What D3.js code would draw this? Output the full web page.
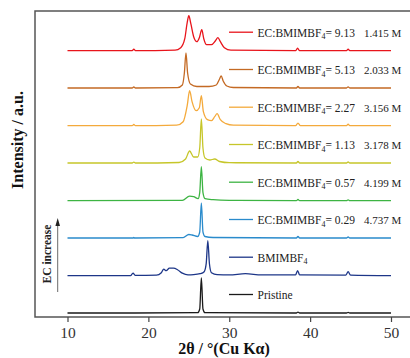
<!DOCTYPE html>
<html lang="en">
	<head>
		<meta charset="utf-8">
		<title>XRD patterns</title>
		<script type="text/javascript" src="https://cdn.jsdelivr.net/npm/d3@7/dist/d3.min.js"></script>
		<style type="text/css">
			body { margin: 0; background: #fff; }
			svg text { font-family: "Liberation Serif", "Times New Roman", serif; }
		</style>
	</head>
	<body>
		<script type="text/javascript">

			//Width and height
			var w = 410;
			var h = 358;

			//Tick labels for 2theta
			var xTicks = [10, 20, 30, 40, 50];

			//Series names (bottom to top), ratios, concentrations
			var names = ["Pristine", "BMIMBF4", "0.29", "0.57", "1.13", "2.27", "5.13", "9.13"];
			var molar = ["", "", "4.737 M", "4.199 M", "3.178 M", "3.156 M", "2.033 M", "1.415 M"];
			var colors = ["#1a1a1a", "#1d3688", "#2a8bcc", "#3db443", "#c6c62a", "#f4aa3c", "#c46a24", "#e8141b"];

			//Vertical offset of each pattern (a.u.)
			var offsets = [4, 41.3, 79, 116.3, 154, 191.3, 229, 266.3];

			//Patterns as [2theta, intensity]
			var pristine = [[10,0],[18.2,0],[26.1,0.3],[26.35,4],[26.55,35],[26.75,4],[27.0,0.3],[38.3,0],[38.5,0.8],[38.7,0],[44.5,0],[44.7,0.6],[44.9,0],[50,0]];
			var bmimbf4 = [[10,0],[17.8,0],[18.1,2.5],[18.4,0.3],[21.0,0.5],[21.6,3],[21.9,6.5],[22.2,5],[22.6,7.5],[23.1,7.5],[23.6,6],[24.2,2.5],[24.9,0.8],[25.6,1],[26.4,2],[26.9,4],[27.15,12],[27.35,35],[27.55,12],[27.8,3],[28.5,1],[30,0.8],[32,2],[34,0.8],[38.2,0.8],[38.45,5],[38.7,0.8],[44.4,0.5],[44.7,4],[45.0,0.5],[50,0]];
			var ec029 = [[10,0],[18.1,0],[18.2,0.6],[18.3,0],[24.3,0.3],[25.0,3.5],[25.4,3],[26.1,1.5],[26.35,6],[26.55,35],[26.75,6],[27.0,1.5],[28,0.5],[38.3,0],[38.5,1.5],[38.7,0],[44.5,0],[44.7,1],[44.9,0],[50,0]];
			var ec057 = [[10,0],[24.2,0.3],[25.1,4.5],[25.6,4],[26.15,2],[26.35,8],[26.55,34],[26.75,8],[27.0,2],[28.0,1],[30,0.3],[38.3,0],[38.5,1.2],[38.7,0],[44.5,0],[44.7,0.8],[44.9,0],[50,0]];
			var ec113 = [[10,0],[18.0,0],[18.2,0.8],[18.4,0],[23.8,0.5],[24.6,4],[25.1,12],[25.6,6],[26.1,6],[26.35,15],[26.55,44],[26.75,15],[27.0,5],[27.6,3],[28.2,4],[28.8,1.5],[30,0.3],[38.3,0],[38.5,1.5],[38.7,0],[44.5,0],[44.7,1],[44.9,0],[50,0]];
			var ec227 = [[10,0],[18.0,0],[18.2,1.2],[18.4,0],[23.5,0.5],[24.3,4],[24.8,20],[25.1,35],[25.4,24],[25.9,15],[26.3,18],[26.55,30],[26.8,14],[27.3,6],[27.8,5],[28.2,9],[28.5,12],[28.9,6],[29.6,2],[30.5,0.5],[38.2,0],[38.5,2.5],[38.8,0],[44.5,0],[44.7,1.5],[44.9,0],[50,0]];
			var ec513 = [[10,0],[18.0,0],[18.2,1],[18.4,0],[23.6,0.3],[24.2,3],[24.45,15],[24.65,35],[24.85,15],[25.2,4],[26.0,1.5],[27.5,1.5],[28.4,3],[28.8,9],[29.0,12],[29.25,7],[29.7,2],[30.5,0.5],[38.3,0],[38.5,1.5],[38.7,0],[44.5,0],[44.7,1.2],[44.9,0],[50,0]];
			var ec913 = [[10,0],[18.0,0],[18.2,1.5],[18.4,0],[23.3,0.5],[24.0,3],[24.5,12],[24.8,28],[25.0,35],[25.25,27],[25.6,14],[26.0,9],[26.3,13],[26.6,21],[26.85,12],[27.2,6],[27.8,6],[28.3,10],[28.6,13],[28.9,9],[29.4,3],[30.2,0.5],[38.2,0],[38.45,2.5],[38.7,0],[44.5,0],[44.7,1.5],[44.9,0],[50,0]];

			var patterns = [pristine, bmimbf4, ec029, ec057, ec113, ec227, ec513, ec913];

			//Plot area
			var plotLeft = 35, plotTop = 11, plotBottom = 317;

			var xScale = d3.scaleLinear()
						.domain([10, 50])
						.range([67.5, 391]);

			var yScale = d3.scaleLinear()
						.domain([0, plotBottom - plotTop])
						.range([plotBottom, plotTop]);

			var svg = d3.select("body")
						.append("svg")
						.attr("width", w)
						.attr("height", h);

			//Frame: left, top, bottom (picture is cropped on the right)
			svg.append("path")
				.attr("d", "M" + w + "," + plotTop + "H" + plotLeft + "V" + plotBottom + "H" + w)
				.attr("fill", "none")
				.attr("stroke", "#555")
				.attr("stroke-width", 1.5);

			//X axis
			var xAxis = d3.axisBottom(xScale)
						.tickValues(xTicks)
						.tickSize(5)
						.tickPadding(5)
						.tickFormat(d3.format("d"));

			var gx = svg.append("g")
				.attr("transform", "translate(0," + plotBottom + ")")
				.call(xAxis);
			gx.select(".domain").remove();
			gx.selectAll("line").attr("stroke", "#444").attr("stroke-width", 1.2);
			gx.selectAll("text")
				.style("font-family", "Liberation Serif")
				.style("font-size", "15.5px")
				.attr("fill", "#333");

			//Patterns
			var line = d3.line()
						.x(function(d) { return xScale(d[0]); })
						.curve(d3.curveMonotoneX);

			patterns.forEach(function(p, i) {
				line.y(function(d) { return yScale(d[1] + offsets[i]); });
				svg.append("path")
					.datum(p)
					.attr("d", line)
					.attr("fill", "none")
					.attr("stroke", colors[i])
					.attr("stroke-width", 1.3);
			});

			//Legend, each entry sits above its pattern
			var legend = svg.selectAll("g.legend")
						.data(names)
						.enter()
						.append("g")
						.attr("class", "legend")
						.attr("transform", function(d, i) {
							return "translate(0," + yScale(offsets[i] + 18.5) + ")";
						});

			legend.append("line")
				.attr("x1", 229)
				.attr("x2", 253)
				.attr("stroke", function(d, i) { return colors[i]; })
				.attr("stroke-width", 1.3);

			var label = legend.append("text")
				.attr("x", 257.5)
				.attr("y", 4.3)
				.attr("font-size", "11.5px")
				.attr("fill", "#222");

			label.each(function(d, i) {
				var t = d3.select(this);
				if (i == 0) {
					t.text(d);
				} else if (i == 1) {
					t.append("tspan").text("BMIMBF");
					t.append("tspan").attr("font-size", "8px").attr("dy", 3).text("4");
				} else {
					t.append("tspan").text("EC:BMIMBF");
					t.append("tspan").attr("font-size", "8px").attr("dy", 3).text("4");
					t.append("tspan").attr("dy", -3).text("= " + d);
				}
			});

			legend.filter(function(d, i) { return molar[i] != ""; })
				.append("text")
				.attr("x", 364)
				.attr("y", 4.3)
				.attr("font-size", "11px")
				.attr("fill", "#222")
				.text(function(d) { return molar[names.indexOf(d)]; });

			//EC increase arrow
			svg.append("line")
				.attr("x1", 57.7).attr("x2", 57.7)
				.attr("y1", 292).attr("y2", 225)
				.attr("stroke", "#444")
				.attr("stroke-width", 0.8);
			svg.append("path")
				.attr("d", "M55.4,226 L57.7,218 L60,226 Z")
				.attr("fill", "#222");

			svg.append("text")
				.attr("transform", "translate(50.5,254) rotate(-90)")
				.attr("text-anchor", "middle")
				.attr("font-size", "11.5px")
				.attr("font-weight", "bold")
				.attr("fill", "#222")
				.text("EC increase");

			//Axis titles
			svg.append("text")
				.attr("transform", "translate(22.5,140) rotate(-90)")
				.attr("text-anchor", "middle")
				.attr("font-size", "16px")
				.attr("font-weight", "bold")
				.attr("fill", "#111")
				.text("Intensity / a.u.");

			svg.append("text")
				.attr("x", 224)
				.attr("y", 354)
				.attr("text-anchor", "middle")
				.attr("font-size", "16px")
				.attr("font-weight", "bold")
				.attr("fill", "#111")
				.text("2θ / °(Cu Kα)");

		</script>
	</body>
</html>
